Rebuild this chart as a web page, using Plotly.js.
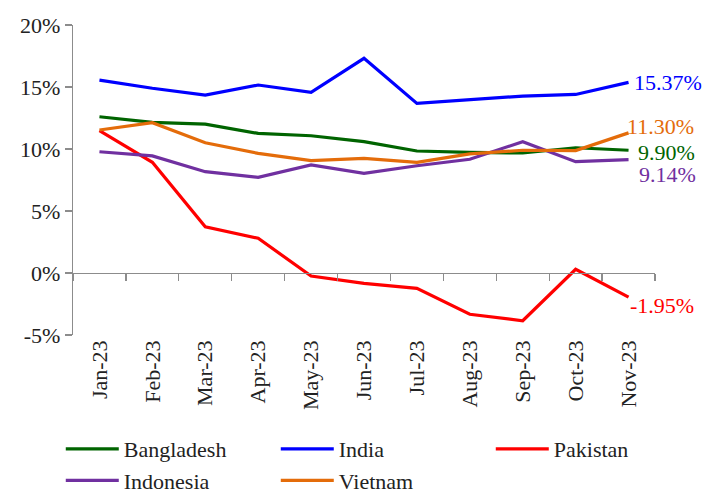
<!DOCTYPE html>
<html>
<head>
<meta charset="utf-8">
<script src="https://cdn.plot.ly/plotly-3.0.1.min.js"></script>
<style>html,body{margin:0;padding:0;background:#fff;}#chart{width:704px;height:490px;}</style>
</head>
<body>
<div id="chart"></div>
<script>
const months = ['Jan-23','Feb-23','Mar-23','Apr-23','May-23','Jun-23','Jul-23','Aug-23','Sep-23','Oct-23','Nov-23'];
const bangladesh = [12.6, 12.15, 12.0, 11.26, 11.07, 10.59, 9.84, 9.72, 9.68, 10.1, 9.90];
const india      = [15.56, 14.9, 14.35, 15.16, 14.57, 17.31, 13.68, 14.0, 14.27, 14.4, 15.37];
const pakistan   = [11.48, 8.93, 3.73, 2.8, -0.24, -0.83, -1.24, -3.33, -3.85, 0.3, -1.95];
const indonesia  = [9.78, 9.44, 8.17, 7.72, 8.71, 8.04, 8.65, 9.17, 10.59, 8.98, 9.14];
const vietnam    = [11.53, 12.12, 10.5, 9.65, 9.06, 9.25, 8.93, 9.6, 9.9, 9.87, 11.30];
const seriesNames = ['Bangladesh','India','Pakistan','Indonesia','Vietnam'];
const endLabels = ['9.90%','15.37%','-1.95%','9.14%','11.30%'];
const yTickVals = [-5, 0, 5, 10, 15, 20];
const yTickText = ['-5%','0%','5%','10%','15%','20%'];

const seriesData = [bangladesh, india, pakistan, indonesia, vietnam];
const colors = ['#006400', '#0000FF', '#FF0000', '#7030A0', '#E46C0A'];
const labelShift = [[7,-2],[3,0],[-1,-8],[8,-15],[-4,6]];

const font = 'Liberation Serif';

const traces = seriesData.map((d, i) => ({
  x: months, y: d, name: seriesNames[i], type: 'scatter', mode: 'lines',
  line: {color: colors[i], width: 3.2}, xaxis: 'x', yaxis: 'y'
}));
traces.push({x: months, y: months.map(() => null), xaxis: 'x2', yaxis: 'y', showlegend: false, hoverinfo: 'skip', mode: 'lines'});

const yMin = -5, yMax = 20;
const zeroPos = (0 - yMin) / (yMax - yMin);

const annotations = seriesData.map((d, i) => ({
  x: months[months.length - 1], y: d[d.length - 1], xref: 'x', yref: 'y',
  text: endLabels[i], showarrow: false, xanchor: 'left', yanchor: 'middle',
  xshift: labelShift[i][0], yshift: labelShift[i][1],
  font: {family: font, size: 22, color: colors[i]}
}));

const layout = {
  width: 704, height: 490,
  margin: {l: 73, r: 49, t: 25, b: 155, autoexpand: false},
  paper_bgcolor: '#fff', plot_bgcolor: '#fff',
  font: {family: font, color: '#222'},
  showlegend: true,
  legend: {
    orientation: 'h',
    x: -0.021, xanchor: 'left', y: -0.30, yanchor: 'top',
    font: {family: font, size: 22, color: '#222'},
    entrywidth: 147, entrywidthmode: 'pixels', itemwidth: 53,
    traceorder: 'normal', bgcolor: 'rgba(0,0,0,0)'
  },
  xaxis: {
    type: 'category', categoryarray: months, range: [-0.5, 10.5], automargin: false,
    showline: false, ticks: '', showgrid: false, zeroline: false,
    tickangle: -90, tickfont: {family: font, size: 22, color: '#222'}
  },
  xaxis2: {
    type: 'category', overlaying: 'x', anchor: 'free', position: zeroPos,
    matches: 'x', range: [-0.5, 10.5],
    showline: true, linecolor: '#8c8c8c', linewidth: 1.3,
    ticks: 'outside', tickson: 'boundaries', ticklen: 7, tickcolor: '#8c8c8c', tickwidth: 1.3,
    showticklabels: false, showgrid: false, zeroline: false
  },
  yaxis: {
    range: [yMin, yMax], tickmode: 'array', tickvals: yTickVals, ticktext: yTickText, automargin: false,
    showline: true, linecolor: '#8c8c8c', linewidth: 1.3,
    ticks: 'outside', ticklen: 7, tickcolor: '#8c8c8c', tickwidth: 1.3,
    showgrid: false, zeroline: false,
    tickfont: {family: font, size: 22, color: '#222'}
  },
  annotations: annotations
};

Plotly.newPlot('chart', traces, layout, {displayModeBar: false, staticPlot: true});
</script>
</body>
</html>
